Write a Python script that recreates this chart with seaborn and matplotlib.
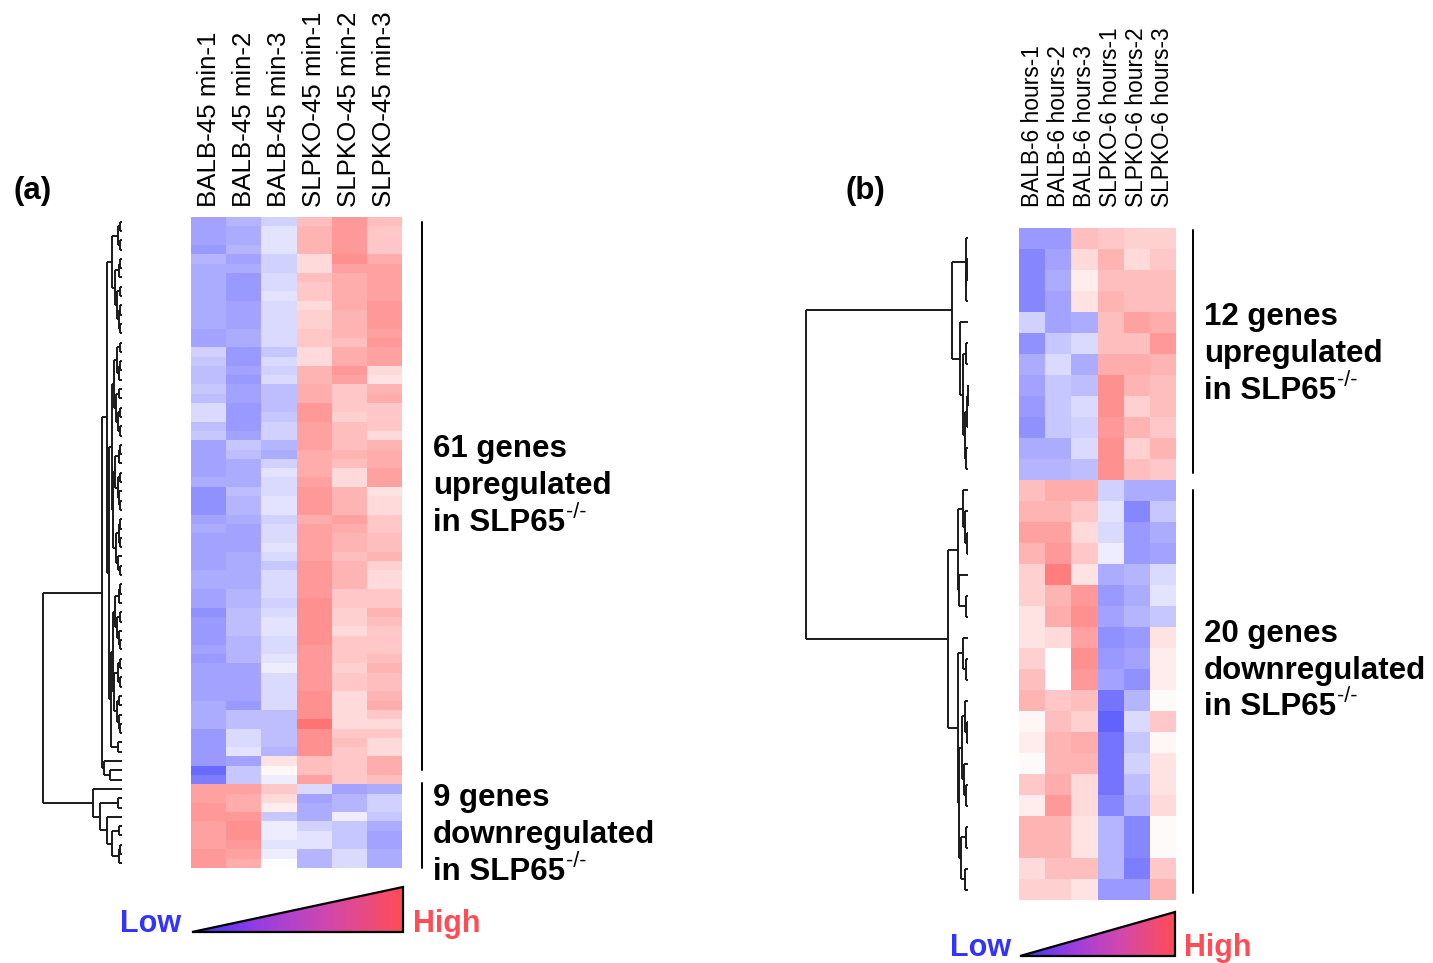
import numpy as np
import pandas as pd
import seaborn as sns
import matplotlib
matplotlib.use("Agg")
import matplotlib.pyplot as plt
from matplotlib.colors import LinearSegmentedColormap
from matplotlib.patches import Polygon

sns.set_theme(style="white")
plt.rcParams['font.family'] = ['Liberation Sans', 'DejaVu Sans']

# sample names
cols_a = ['BALB-45 min-1', 'BALB-45 min-2', 'BALB-45 min-3',
          'SLPKO-45 min-1', 'SLPKO-45 min-2', 'SLPKO-45 min-3']
cols_b = ['BALB-6 hours-1', 'BALB-6 hours-2', 'BALB-6 hours-3',
          'SLPKO-6 hours-1', 'SLPKO-6 hours-2', 'SLPKO-6 hours-3']

# relative expression (-1 = low / blue, +1 = high / red)
a_up = [
    [-0.5, -0.4, -0.25, 0.35, 0.55, 0.35],
    [-0.5, -0.45, -0.15, 0.4, 0.55, 0.3],
    [-0.5, -0.45, -0.15, 0.4, 0.55, 0.3],
    [-0.55, -0.4, -0.15, 0.4, 0.55, 0.3],
    [-0.4, -0.5, -0.25, 0.2, 0.6, 0.45],
    [-0.45, -0.45, -0.25, 0.2, 0.5, 0.5],
    [-0.45, -0.55, -0.2, 0.35, 0.45, 0.5],
    [-0.45, -0.55, -0.2, 0.3, 0.45, 0.5],
    [-0.45, -0.55, -0.15, 0.3, 0.45, 0.5],
    [-0.45, -0.5, -0.2, 0.2, 0.45, 0.55],
    [-0.45, -0.5, -0.2, 0.25, 0.4, 0.55],
    [-0.45, -0.5, -0.2, 0.25, 0.4, 0.55],
    [-0.5, -0.45, -0.2, 0.3, 0.4, 0.5],
    [-0.5, -0.45, -0.2, 0.3, 0.35, 0.55],
    [-0.25, -0.55, -0.3, 0.2, 0.45, 0.5],
    [-0.3, -0.55, -0.2, 0.2, 0.45, 0.5],
    [-0.35, -0.5, -0.25, 0.4, 0.55, 0.2],
    [-0.35, -0.55, -0.2, 0.4, 0.5, 0.15],
    [-0.3, -0.5, -0.35, 0.45, 0.3, 0.4],
    [-0.35, -0.5, -0.35, 0.45, 0.3, 0.45],
    [-0.2, -0.55, -0.35, 0.55, 0.3, 0.3],
    [-0.2, -0.55, -0.3, 0.55, 0.25, 0.3],
    [-0.35, -0.55, -0.25, 0.5, 0.35, 0.3],
    [-0.3, -0.5, -0.25, 0.5, 0.35, 0.2],
    [-0.5, -0.3, -0.4, 0.5, 0.35, 0.4],
    [-0.5, -0.35, -0.45, 0.45, 0.4, 0.45],
    [-0.5, -0.45, -0.25, 0.45, 0.35, 0.45],
    [-0.5, -0.45, -0.15, 0.45, 0.2, 0.5],
    [-0.45, -0.45, -0.2, 0.5, 0.2, 0.5],
    [-0.6, -0.35, -0.2, 0.55, 0.4, 0.15],
    [-0.6, -0.4, -0.15, 0.55, 0.4, 0.2],
    [-0.6, -0.4, -0.15, 0.55, 0.4, 0.2],
    [-0.5, -0.45, -0.25, 0.45, 0.5, 0.3],
    [-0.45, -0.5, -0.2, 0.5, 0.45, 0.3],
    [-0.5, -0.5, -0.2, 0.5, 0.4, 0.35],
    [-0.5, -0.5, -0.15, 0.5, 0.4, 0.35],
    [-0.5, -0.45, -0.2, 0.5, 0.35, 0.4],
    [-0.5, -0.45, -0.3, 0.55, 0.4, 0.25],
    [-0.45, -0.45, -0.2, 0.55, 0.4, 0.2],
    [-0.45, -0.45, -0.2, 0.55, 0.4, 0.2],
    [-0.5, -0.4, -0.2, 0.55, 0.3, 0.3],
    [-0.5, -0.4, -0.25, 0.6, 0.3, 0.3],
    [-0.6, -0.35, -0.2, 0.6, 0.25, 0.4],
    [-0.55, -0.35, -0.15, 0.6, 0.25, 0.35],
    [-0.55, -0.35, -0.15, 0.6, 0.2, 0.3],
    [-0.55, -0.4, -0.2, 0.6, 0.3, 0.3],
    [-0.5, -0.4, -0.2, 0.55, 0.3, 0.3],
    [-0.55, -0.4, -0.15, 0.55, 0.3, 0.35],
    [-0.5, -0.5, -0.1, 0.55, 0.25, 0.4],
    [-0.5, -0.5, -0.2, 0.55, 0.3, 0.35],
    [-0.5, -0.5, -0.2, 0.55, 0.3, 0.35],
    [-0.5, -0.5, -0.2, 0.6, 0.2, 0.4],
    [-0.45, -0.55, -0.2, 0.6, 0.2, 0.45],
    [-0.45, -0.35, -0.35, 0.6, 0.2, 0.3],
    [-0.45, -0.35, -0.35, 0.75, 0.2, 0.2],
    [-0.55, -0.2, -0.35, 0.6, 0.3, 0.3],
    [-0.55, -0.2, -0.35, 0.6, 0.35, 0.2],
    [-0.55, -0.15, -0.4, 0.6, 0.3, 0.2],
    [-0.55, -0.5, 0.15, 0.35, 0.3, 0.45],
    [-0.8, -0.3, 0.05, 0.35, 0.3, 0.45],
    [-0.7, -0.3, -0.1, 0.5, 0.3, 0.35],
]
a_down = [
    [0.5, 0.5, 0.3, -0.2, -0.5, -0.45],
    [0.5, 0.45, 0.2, -0.5, -0.4, -0.25],
    [0.55, 0.45, 0.1, -0.45, -0.4, -0.25],
    [0.55, 0.55, -0.3, -0.45, -0.1, -0.3],
    [0.5, 0.6, -0.1, -0.25, -0.3, -0.45],
    [0.5, 0.6, -0.1, -0.15, -0.3, -0.5],
    [0.5, 0.55, -0.15, -0.15, -0.3, -0.5],
    [0.55, 0.5, -0.1, -0.4, -0.2, -0.45],
    [0.55, 0.45, 0.0, -0.4, -0.2, -0.45],
]
b_up = [
    [-0.55, -0.55, 0.35, 0.3, 0.25, 0.25],
    [-0.65, -0.5, 0.2, 0.4, 0.2, 0.3],
    [-0.65, -0.45, 0.1, 0.35, 0.35, 0.35],
    [-0.65, -0.5, 0.15, 0.4, 0.35, 0.35],
    [-0.25, -0.5, -0.45, 0.35, 0.5, 0.45],
    [-0.6, -0.3, -0.2, 0.35, 0.35, 0.55],
    [-0.45, -0.2, -0.45, 0.45, 0.45, 0.4],
    [-0.5, -0.3, -0.35, 0.6, 0.4, 0.35],
    [-0.55, -0.3, -0.2, 0.6, 0.25, 0.35],
    [-0.6, -0.3, -0.25, 0.55, 0.4, 0.3],
    [-0.45, -0.45, -0.2, 0.6, 0.25, 0.4],
    [-0.4, -0.4, -0.35, 0.6, 0.35, 0.3],
]
b_down = [
    [0.35, 0.45, 0.45, -0.25, -0.45, -0.45],
    [0.4, 0.4, 0.3, -0.15, -0.65, -0.3],
    [0.5, 0.5, 0.2, -0.2, -0.55, -0.45],
    [0.4, 0.55, 0.3, -0.1, -0.55, -0.5],
    [0.25, 0.7, 0.15, -0.45, -0.4, -0.2],
    [0.25, 0.4, 0.55, -0.55, -0.45, -0.15],
    [0.15, 0.45, 0.6, -0.5, -0.4, -0.3],
    [0.15, 0.2, 0.5, -0.6, -0.55, 0.15],
    [0.25, 0.0, 0.6, -0.55, -0.5, 0.1],
    [0.35, 0.0, 0.55, -0.5, -0.6, 0.1],
    [0.4, 0.3, 0.35, -0.75, -0.4, 0.03],
    [0.05, 0.35, 0.25, -0.85, -0.2, 0.3],
    [0.1, 0.4, 0.45, -0.75, -0.3, 0.05],
    [0.03, 0.4, 0.4, -0.75, -0.25, 0.15],
    [0.3, 0.45, 0.2, -0.75, -0.35, 0.15],
    [0.1, 0.55, 0.2, -0.65, -0.4, 0.2],
    [0.4, 0.4, 0.15, -0.4, -0.65, 0.03],
    [0.4, 0.4, 0.15, -0.4, -0.65, 0.03],
    [0.2, 0.35, 0.35, -0.4, -0.7, 0.3],
    [0.25, 0.25, 0.15, -0.55, -0.55, 0.4],
]

# cluster trees: [merge height, left, right], ints are row indices
top_a = [10, [4, [2, 0, 1], [2, 2, 3]],
         [7, [3, [2, 4, 5], 6], [5, [2, 7, 8], [3, [2, 9, 10], [2, 11, 12]]]]]
mid_a = [13,
         [10,
          [8, [5, [2, 13, 14], [3, [2, 15, 16], 17]],
              [6, [3, 18, 19], [4, [2, 20, 21], [2, 22, 23]]]],
          [9, [7, [3, [2, 24, 25], 26], [4, [2, 27, 28], [3, 29, [2, 30, 31]]]],
              [6, [3, [2, 32, 33], [2, 34, 35]], [4, 36, [2, 37, 38]]]]],
         [11,
          [9, [7, [3, [2, 39, 40], 41], [5, [2, 42, 43], [3, 44, [2, 45, 46]]]],
              [8, [4, [2, 47, 48], [2, 49, 50]], [5, [3, 51, 52], [3, 53, [2, 54, 55]]]]],
          [4, 56, 57]]]
up_a = [20, [15, top_a, mid_a], [18, 58, [12, 59, 60]]]
down_a = [29, 61, [22, [4, 62, 63], [15, 64, [10, [3, 65, 66], [3, [2, 67, 68], 69]]]]]
tree_a = [79, up_a, down_a]

up_b = [16, [2.5, 0, [2, [1.5, 1, 2], 3]],
        [8, 4, [5, [2.5, 5, 6], [3.5, [1, [0.5, 7, 8], 9], [2, 10, 11]]]]]
down_b = [20,
          [10, [5, 12, [3, 13, [1.5, 14, 15]]], [9, 16, [2, 17, 18]]],
          [10, [5, 19, [2, 20, 21]],
           [9, [6, [3, 22, [1, 23, 24]], [4, 25, [2, 26, 27]]],
            [7, [2, 28, 29], [3, 30, 31]]]]]
tree_b = [162, up_b, down_b]

W, H = 1433, 963
fig = plt.figure(figsize=(W / 100, H / 100), dpi=100)
fig.patch.set_facecolor('white')


def px_axes(x0, y0, x1, y1):
    return fig.add_axes([x0 / W, 1 - y1 / H, (x1 - x0) / W, (y1 - y0) / H])


heat_cmap = LinearSegmentedColormap.from_list('bwr_soft', ['#4646ff', '#ffffff', '#ff4646'])


def draw_heat(ax, rows, cols, size, pad):
    df = pd.DataFrame(rows, columns=cols)
    sns.heatmap(df, ax=ax, cmap=heat_cmap, vmin=-1, vmax=1, cbar=False,
                xticklabels=cols, yticklabels=False)
    ax.xaxis.tick_top()
    ax.tick_params(axis='x', length=0, pad=pad, labelsize=size, labelcolor='black')
    for t in ax.get_xticklabels():
        t.set_rotation(90)
        t.set_ha('center')
        t.set_va('bottom')
    ax.set_xlabel('')
    ax.set_ylabel('')


def draw_tree(ax, node):
    if isinstance(node, int):
        return node + 0.5, 0.0
    h, left, right = node
    yl, hl = draw_tree(ax, left)
    yr, hr = draw_tree(ax, right)
    kw = dict(color='#1a1a1a', lw=1.4, clip_on=False, solid_capstyle='butt')
    ax.plot([hl, h], [yl, yl], **kw)
    ax.plot([hr, h], [yr, yr], **kw)
    ax.plot([h, h], [yl, yr], **kw)
    return (yl + yr) / 2, h


# panel (a)
ax_ha = px_axes(191, 217, 402, 868)
draw_heat(ax_ha, a_up + a_down, cols_a, 18.6, 7)
ax_da = px_axes(43, 217, 122, 868)
draw_tree(ax_da, tree_a)
ax_da.set_xlim(tree_a[0], 0)
ax_da.set_ylim(len(a_up) + len(a_down), 0)
ax_da.axis('off')

# panel (b)
ax_hb = px_axes(1019, 228, 1176, 900)
draw_heat(ax_hb, b_up + b_down, cols_b, 16.4, 15)
ax_db = px_axes(806, 228, 968, 900)
draw_tree(ax_db, tree_b)
ax_db.set_xlim(tree_b[0], 0)
ax_db.set_ylim(len(b_up) + len(b_down), 0)
ax_db.axis('off')

# overlay in pixel coordinates for annotations
ov = fig.add_axes([0, 0, 1, 1], zorder=5)
ov.axis('off')
ov.set_xlim(0, W)
ov.set_ylim(H, 0)

bold = dict(fontsize=22.5, fontweight='bold', color='black', va='baseline', ha='left')
ov.text(14, 199, '(a)', **bold)
ov.text(846, 199, '(b)', **bold)

renderer = fig.canvas.get_renderer()
blocks = [
    (433, [457, 494, 531], ['61 genes', 'upregulated', 'in SLP65']),
    (433, [806, 843, 880], ['9 genes', 'downregulated', 'in SLP65']),
    (1204, [325, 362, 399], ['12 genes', 'upregulated', 'in SLP65']),
    (1204, [642, 679, 715], ['20 genes', 'downregulated', 'in SLP65']),
]
for x, ys, lines in blocks:
    for y, s in zip(ys, lines):
        t = ov.text(x, y, s, **bold)
    # superscript -/- right after the genotype
    bb = t.get_window_extent(renderer=renderer)
    ov.text(x + bb.width + 1, y - 13, '-/-', fontsize=15.5, color='black',
            va='baseline', ha='left')

# cluster brackets
for x, y0, y1 in [(422, 222, 770), (422, 783, 868), (1193, 230, 473), (1193, 490, 893)]:
    ov.plot([x, x], [y0, y1], color='black', lw=1.4)

# Low / High wedges
grad_cmap = LinearSegmentedColormap.from_list(
    'lowhigh', ['#3c34ff', '#9a3ee0', '#d548a8', '#ff4d55'])
grad = np.linspace(0, 1, 256)[None, :]
for (x0, x1, ytop, ybot, lx, hx) in [(192, 403, 887, 932, 120, 413),
                                      (1020, 1175, 912, 956, 950, 1184)]:
    tri = Polygon([(x0, ybot), (x1, ytop), (x1, ybot)], closed=True,
                  facecolor='none', edgecolor='black', lw=1.6, zorder=3)
    ov.add_patch(tri)
    im = ov.imshow(grad, cmap=grad_cmap, extent=[x0, x1, ybot, ytop],
                   aspect='auto', zorder=2, interpolation='bilinear')
    im.set_clip_path(tri)
    ov.text(lx, ybot, 'Low', fontsize=22, fontweight='bold', color='#3333ff',
            va='baseline', ha='left')
    ov.text(hx, ybot, 'High', fontsize=22, fontweight='bold', color='#ff4d55',
            va='baseline', ha='left')

ov.set_xlim(0, W)
ov.set_ylim(H, 0)

fig.savefig('out.png', dpi=100, facecolor='white')
